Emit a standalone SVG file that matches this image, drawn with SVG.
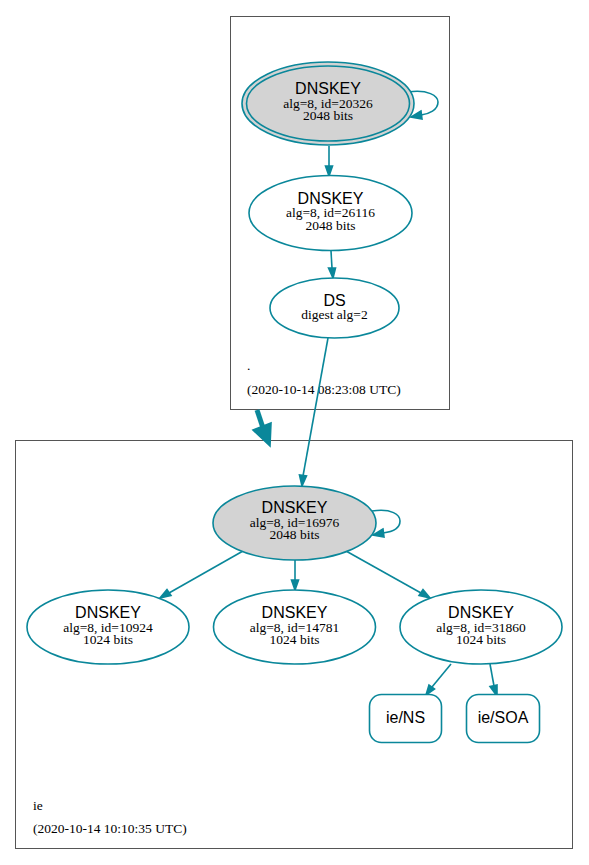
<svg xmlns="http://www.w3.org/2000/svg" width="589" height="865" viewBox="0 0 589 865">
<style>
.cl{fill:#fff;stroke:#555;stroke-width:1}
.n{stroke:#0a879a;stroke-width:1.6;fill:#fff}
.k{fill:#d3d3d3}
.e{stroke:#0a879a;stroke-width:1.6;fill:none}
.h{fill:#0a879a;stroke:#0a879a;stroke-width:1.6}
.t1{font-family:"Liberation Sans",Arial,sans-serif;font-size:16px;text-anchor:middle;fill:#000}
.t2{font-family:"Liberation Serif","Times New Roman",serif;font-size:13.5px;text-anchor:middle;fill:#000}
.lb{font-family:"Liberation Serif","Times New Roman",serif;font-size:13.5px;fill:#000}
</style>
<rect width="589" height="865" fill="#fff"/>
<g id="cluster-root">
<rect class="cl" x="230.5" y="16.5" width="219" height="393"/>
<text class="lb" x="247" y="370">.</text>
<text class="lb" x="247" y="394">(2020-10-14 08:23:08 UTC)</text>
</g>
<g id="cluster-ie">
<rect class="cl" x="15.5" y="440.5" width="557" height="408"/>
<text class="lb" x="33" y="810">ie</text>
<text class="lb" x="33" y="833">(2020-10-14 10:10:35 UTC)</text>
</g>
<g id="edges">
<path class="e" d="M408,92 C428,89 438,96 438,102 C438,110 429,114 421,115"/>
<polygon class="h" points="421,111 411,117 422,119"/>
<path class="e" d="M329,146 L329,166"/>
<polygon class="h" points="325.5,166 329,176 332.5,166"/>
<path class="e" d="M331,251 L332,268"/>
<polygon class="h" points="328.5,268 333,278 335.5,268"/>
<path class="e" d="M328,338 L303,476"/>
<polygon class="h" points="299.5,475 302,486 306.5,476"/>
<path d="M257,410 L263,428" stroke="#0a879a" stroke-width="5" fill="none"/>
<polygon class="h" points="253,430 271,423 270,446"/>
<path class="e" d="M372,511 C392,508 400,515 400,521 C400,529 391,532 383,533"/>
<polygon class="h" points="383,529 373,535 384,537"/>
<path class="e" d="M243,551 L169,593"/>
<polygon class="h" points="167,589.5 160,598 171,595.5"/>
<path class="e" d="M295,560 L295,580"/>
<polygon class="h" points="291.5,580 295,590 298.5,580"/>
<path class="e" d="M346,551 L421,593"/>
<polygon class="h" points="419,595.5 430,598 423,589.5"/>
<path class="e" d="M451,664 L432,687"/>
<polygon class="h" points="429,685 426,695 434.5,689"/>
<path class="e" d="M490,664 L494,686"/>
<polygon class="h" points="490,686.5 497,696 497,685"/>
</g>
<g id="node-root-ksk">
<ellipse class="n k" cx="328" cy="103.5" rx="86" ry="41.5"/>
<ellipse class="n k" cx="328" cy="103.5" rx="81.5" ry="37.5"/>
<text class="t1" x="328" y="94">DNSKEY</text>
<text class="t2" x="328" y="108">alg=8, id=20326</text>
<text class="t2" x="328" y="120">2048 bits</text>
</g>
<g id="node-root-zsk">
<ellipse class="n" cx="330.5" cy="213" rx="81.5" ry="37.5"/>
<text class="t1" x="330.5" y="204">DNSKEY</text>
<text class="t2" x="330.5" y="217">alg=8, id=26116</text>
<text class="t2" x="330.5" y="230">2048 bits</text>
</g>
<g id="node-ds">
<ellipse class="n" cx="334.5" cy="308" rx="64.5" ry="30"/>
<text class="t1" x="334.5" y="306">DS</text>
<text class="t2" x="334.5" y="319">digest alg=2</text>
</g>
<g id="node-ie-ksk">
<ellipse class="n k" cx="294.5" cy="523" rx="81.5" ry="37"/>
<text class="t1" x="294.5" y="513">DNSKEY</text>
<text class="t2" x="294.5" y="527">alg=8, id=16976</text>
<text class="t2" x="294.5" y="539">2048 bits</text>
</g>
<g id="node-ie-10924">
<ellipse class="n" cx="108" cy="627" rx="81" ry="37"/>
<text class="t1" x="108" y="618">DNSKEY</text>
<text class="t2" x="108" y="632">alg=8, id=10924</text>
<text class="t2" x="108" y="644">1024 bits</text>
</g>
<g id="node-ie-14781">
<ellipse class="n" cx="294.5" cy="627" rx="81" ry="37"/>
<text class="t1" x="294.5" y="618">DNSKEY</text>
<text class="t2" x="294.5" y="632">alg=8, id=14781</text>
<text class="t2" x="294.5" y="644">1024 bits</text>
</g>
<g id="node-ie-31860">
<ellipse class="n" cx="481" cy="627" rx="81" ry="37"/>
<text class="t1" x="481" y="618">DNSKEY</text>
<text class="t2" x="481" y="632">alg=8, id=31860</text>
<text class="t2" x="481" y="644">1024 bits</text>
</g>
<g id="node-ie-ns">
<rect class="n" x="369.5" y="694.5" width="72" height="48" rx="12"/>
<text class="t1" x="405.5" y="723">ie/NS</text>
</g>
<g id="node-ie-soa">
<rect class="n" x="466.5" y="694.5" width="73" height="48" rx="12"/>
<text class="t1" x="503" y="723">ie/SOA</text>
</g>
</svg>
